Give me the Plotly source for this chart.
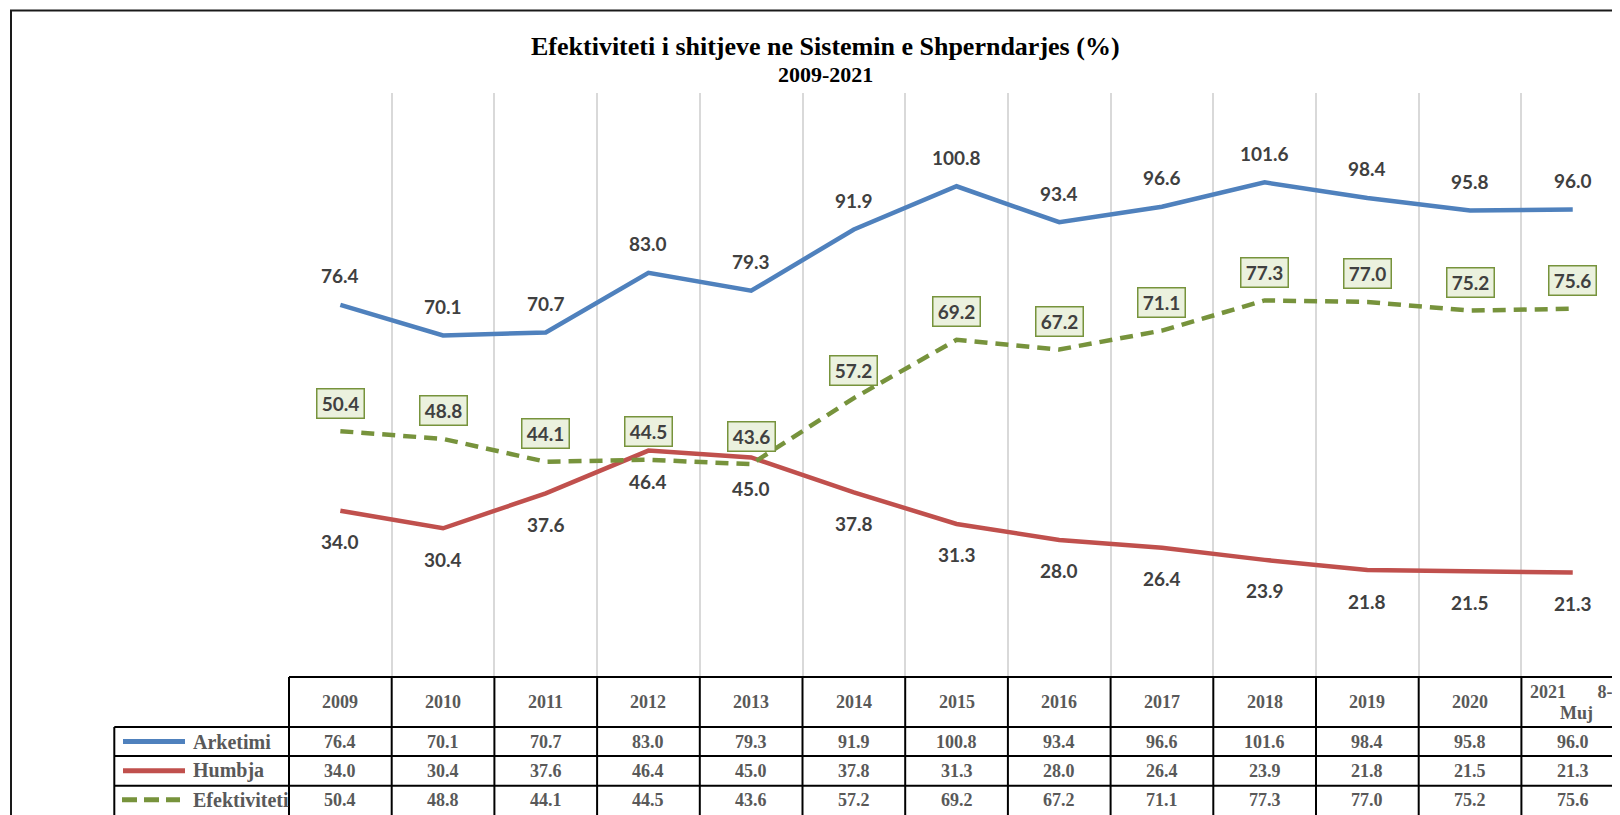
import plotly.graph_objects as go

# ---------------- data ----------------
years = ["2009", "2010", "2011", "2012", "2013", "2014", "2015", "2016",
         "2017", "2018", "2019", "2020", "2021 8-Muj"]
arketimi = [76.4, 70.1, 70.7, 83.0, 79.3, 91.9, 100.8, 93.4, 96.6, 101.6, 98.4, 95.8, 96.0]
humbja = [34.0, 30.4, 37.6, 46.4, 45.0, 37.8, 31.3, 28.0, 26.4, 23.9, 21.8, 21.5, 21.3]
efektiviteti = [50.4, 48.8, 44.1, 44.5, 43.6, 57.2, 69.2, 67.2, 71.1, 77.3, 77.0, 75.2, 75.6]
series_names = ["Arketimi", "Humbja", "Efektiviteti"]
title_line1 = "Efektiviteti i shitjeve ne Sistemin e Shperndarjes (%)"
title_line2 = "2009-2021"

# ---------------- style / layout geometry ----------------
OFF = 8                      # page body margin of the html page
W, H = 1620 - OFF, 815 - OFF
PL, PR, PT, PB = 289, 1620, 93, 676   # plot area in page pixels
CAT_W = 102.7
XMIN = -0.5
XMAX = XMIN + (PR - PL) / CAT_W
BLUE, RED, GREEN = "#4F81BD", "#C0504D", "#77933C"
LABEL_FONT = dict(family="Lato", size=19, color="#404040", weight="bold")
TABLE_FONT = dict(family="Liberation Serif", size=18, color="#595959", weight="bold")
LEG_FONT = dict(family="Liberation Serif", size=20, color="#595959", weight="bold")


def xp(px):
    return (px - PL) / (PR - PL)


def yp(py):
    return (PB - py) / (PB - PT)


def xcat(v):
    return (v - XMIN) / (XMAX - XMIN)


xs = list(range(len(years)))

fig = go.Figure()
fig.add_trace(go.Scatter(x=xs, y=arketimi, mode="lines", name=series_names[0],
                         line=dict(color=BLUE, width=4.5), hoverinfo="skip"))
fig.add_trace(go.Scatter(x=xs, y=humbja, mode="lines", name=series_names[1],
                         line=dict(color=RED, width=4.5), hoverinfo="skip"))
fig.add_trace(go.Scatter(x=xs, y=efektiviteti, mode="lines", name=series_names[2],
                         line=dict(color=GREEN, width=4.5, dash="13px,8px"), hoverinfo="skip"))

ann = []
# data labels
for i in xs:
    ann.append(dict(x=i, y=arketimi[i], xref="x", yref="y", text=f"{arketimi[i]:.1f}",
                    showarrow=False, yshift=29, yanchor="middle", font=LABEL_FONT))
    ann.append(dict(x=i, y=humbja[i], xref="x", yref="y", text=f"{humbja[i]:.1f}",
                    showarrow=False, yshift=-31, yanchor="middle", font=LABEL_FONT))
    ann.append(dict(x=i, y=efektiviteti[i], xref="x", yref="y", text=f"{efektiviteti[i]:.1f}",
                    showarrow=False, yshift=28, yanchor="middle", font=LABEL_FONT,
                    bgcolor="#EBF1DE", bordercolor=GREEN, borderwidth=1.5,
                    borderpad=1, width=44, height=26))

# title
ann.append(dict(x=xp(825.5), y=yp(46.5), xref="paper", yref="paper", text="<b>" + title_line1 + "</b>",
                showarrow=False, xanchor="center", yanchor="middle",
                font=dict(family="Liberation Serif", size=26, color="#000000")))
ann.append(dict(x=xp(825.5), y=yp(74), xref="paper", yref="paper", text="<b>" + title_line2 + "</b>",
                showarrow=False, xanchor="center", yanchor="middle",
                font=dict(family="Liberation Serif", size=22, color="#000000")))

# ---------------- data table ----------------
HDR_TOP, ROW1, ROW2, ROW3, TBL_BOT = 677, 727, 756, 785.7, 816
LEG_L = 114.3
row_centers = [(ROW1 + ROW2) / 2, (ROW2 + ROW3) / 2, (ROW3 + TBL_BOT) / 2 - 1]
series_vals = [arketimi, humbja, efektiviteti]

for i in xs:
    if i < len(years) - 1:
        ann.append(dict(x=i, y=yp((HDR_TOP + ROW1) / 2), xref="x", yref="paper", text=years[i],
                        showarrow=False, yanchor="middle", font=TABLE_FONT))
    else:
        y0, y1 = years[i].split(" ")
        ann.append(dict(x=i, y=yp(691.5), xref="x", yref="paper",
                        text=y0 + "&nbsp;" * 7 + y1[:2],
                        showarrow=False, xshift=-1, yanchor="middle", font=TABLE_FONT))
        ann.append(dict(x=i, y=yp(713), xref="x", yref="paper", text=y1[2:],
                        showarrow=False, xshift=4, yanchor="middle", font=TABLE_FONT))
    for r in range(3):
        ann.append(dict(x=i, y=yp(row_centers[r]), xref="x", yref="paper",
                        text=f"{series_vals[r][i]:.1f}", showarrow=False, yanchor="middle",
                        font=TABLE_FONT))

for r in range(3):
    ann.append(dict(x=xp(191), y=yp(row_centers[r]), xref="paper", yref="paper",
                    text=series_names[r], showarrow=False, xanchor="left", yanchor="middle",
                    font=LEG_FONT))

shapes = []
LINE = dict(color="#000000", width=2)
# horizontal lines
shapes.append(dict(type="line", xref="paper", yref="paper", x0=xcat(-0.5), x1=1.02,
                   y0=yp(HDR_TOP), y1=yp(HDR_TOP), line=LINE))
for yy in (ROW1, ROW2, ROW3):
    shapes.append(dict(type="line", xref="paper", yref="paper", x0=xp(LEG_L), x1=1.02,
                       y0=yp(yy), y1=yp(yy), line=LINE))
# vertical lines
for b in range(len(years) + 1):
    shapes.append(dict(type="line", xref="paper", yref="paper", x0=xcat(b - 0.5), x1=xcat(b - 0.5),
                       y0=yp(HDR_TOP), y1=yp(TBL_BOT), line=LINE))
shapes.append(dict(type="line", xref="paper", yref="paper", x0=xp(LEG_L), x1=xp(LEG_L),
                   y0=yp(ROW1), y1=yp(TBL_BOT), line=LINE))
# legend keys
shapes.append(dict(type="line", xref="paper", yref="paper", x0=xp(123), x1=xp(185),
                   y0=yp(row_centers[0]), y1=yp(row_centers[0]), line=dict(color=BLUE, width=5)))
shapes.append(dict(type="line", xref="paper", yref="paper", x0=xp(123), x1=xp(185),
                   y0=yp(row_centers[1]), y1=yp(row_centers[1]), line=dict(color=RED, width=5)))
shapes.append(dict(type="line", xref="paper", yref="paper", x0=xp(122), x1=xp(180),
                   y0=yp(row_centers[2]), y1=yp(row_centers[2]),
                   line=dict(color=GREEN, width=5, dash="15px,7px")))
# outer chart border (left & top)
shapes.append(dict(type="path", xref="paper", yref="paper",
                   path=f"M {xp(11)} {yp(820)} L {xp(11)} {yp(10.5)} L {xp(1630)} {yp(10.5)}",
                   line=dict(color="#1a1a1a", width=2)))

fig.update_layout(
    width=W, height=H,
    margin=dict(l=PL - OFF, r=W - (PR - OFF), t=PT - OFF, b=H - (PB - OFF), pad=0),
    paper_bgcolor="white", plot_bgcolor="white",
    showlegend=False,
    xaxis=dict(range=[XMIN, XMAX], tickmode="array",
               tickvals=[k - 0.5 for k in range(len(years) + 1)],
               showticklabels=False, showgrid=True, gridcolor="#D9D9D9", gridwidth=1.5,
               zeroline=False, showline=False, ticks=""),
    yaxis=dict(range=[0, 120], showgrid=False, showticklabels=False, zeroline=False,
               showline=False, ticks=""),
    annotations=ann,
    shapes=shapes,
)

fig.write_html("out.html")
